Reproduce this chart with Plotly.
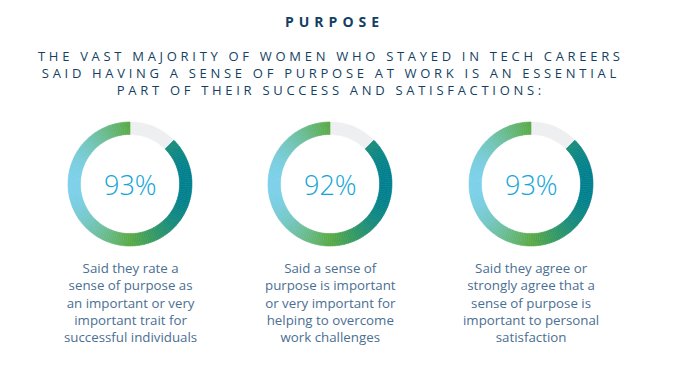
import plotly.graph_objects as go
import numpy as np

# ---- data ----
percent_labels = [93, 92, 93]            # value printed in each ring
ring_arc_shown = [87.5, 87.5, 87.5]      # share of ring drawn coloured
captions = [
    "Said they rate a<br>sense of purpose as<br>an important or very<br>important trait for<br>successful individuals",
    "Said a sense of<br>purpose is important<br>or very important for<br>helping to overcome<br>work challenges",
    "Said they agree or<br>strongly agree that a<br>sense of purpose is<br>important to personal<br>satisfaction",
]
title = "PURPOSE"
subtitle_lines = [
    "THE VAST MAJORITY OF WOMEN WHO STAYED IN TECH CAREERS",
    "SAID HAVING A SENSE OF PURPOSE AT WORK IS AN ESSENTIAL",
    "PART OF THEIR SUCCESS AND SATISFACTIONS:",
]

# ---- layout / style ----
PAGE_W, PAGE_H = 693, 369
OFF = 8                     # default page body margin
W, H = PAGE_W - OFF, PAGE_H - OFF
centers_x = [130, 330, 531]
center_y = 184
R = 62
N_SEG = 160
NAVY = "#143f63"
CYAN = "#12a6d7"
CAPTION = "#4a6f92"
GREY = "#eeeff0"
FONT = "Open Sans"

def px(x):
    return (x - OFF) / W

def py(y):
    return 1 - (y - OFF) / H

def lerp(c1, c2, t):
    a = np.array([int(c1[i:i + 2], 16) for i in (1, 3, 5)])
    b = np.array([int(c2[i:i + 2], 16) for i in (1, 3, 5)])
    c = (a + (b - a) * t).round().astype(int)
    return "#%02x%02x%02x" % tuple(c)

LEFT, MID, RIGHT = "#7cd0ea", "#5aab46", "#00808f"

def grad(xpos):
    # horizontal gradient across the ring: left light blue, centre green, right teal
    if xpos < 0:
        return lerp(MID, LEFT, -xpos)
    return lerp(MID, RIGHT, xpos)

fig = go.Figure()
for i, (cx, arc) in enumerate(zip(centers_x, ring_arc_shown)):
    gap = 100 - arc
    seg = arc / N_SEG
    values = [gap] + [seg] * N_SEG
    colors = [GREY]
    start_deg = gap / 100 * 360
    for k in range(N_SEG):
        mid = np.radians(start_deg + (k + 0.5) * seg / 100 * 360)
        colors.append(grad(np.sin(mid)))
    fig.add_trace(go.Pie(
        values=values,
        sort=False,
        direction="clockwise",
        rotation=0,
        hole=0.8,
        textinfo="none",
        hoverinfo="skip",
        showlegend=False,
        marker=dict(colors=colors, line=dict(color=colors, width=0.6)),
        domain=dict(x=[px(cx - R), px(cx + R)], y=[py(center_y + R), py(center_y - R)]),
    ))
    fig.add_annotation(
        x=px(cx), y=py(center_y), xref="paper", yref="paper",
        text=f"{percent_labels[i]}%", showarrow=False,
        font=dict(family=FONT, size=27, color=CYAN, weight=300),
        xanchor="center", yanchor="middle",
    )
    fig.add_annotation(
        x=px(cx), y=py(257), xref="paper", yref="paper",
        text=captions[i], showarrow=False, align="center",
        font=dict(family=FONT, size=13.3, color=CAPTION),
        xanchor="center", yanchor="top",
    )

fig.add_annotation(
    x=px(334), y=py(22), xref="paper", yref="paper",
    text=f'<span style="letter-spacing:5px"><b>{title}</b></span>', showarrow=False,
    font=dict(family=FONT, size=14, color=NAVY),
    xanchor="center", yanchor="middle",
)
sub_text = "<br>".join(
    f'<span style="letter-spacing:3.7px">{line}</span>' for line in subtitle_lines
)
fig.add_annotation(
    x=px(331), y=py(73.5), xref="paper", yref="paper",
    text=sub_text, showarrow=False, align="center",
    font=dict(family=FONT, size=13, color=NAVY),
    xanchor="center", yanchor="middle",
)

fig.update_layout(
    width=W, height=H,
    margin=dict(l=0, r=0, t=0, b=0),
    paper_bgcolor="white", plot_bgcolor="white",
)
fig.write_html("out.html")
